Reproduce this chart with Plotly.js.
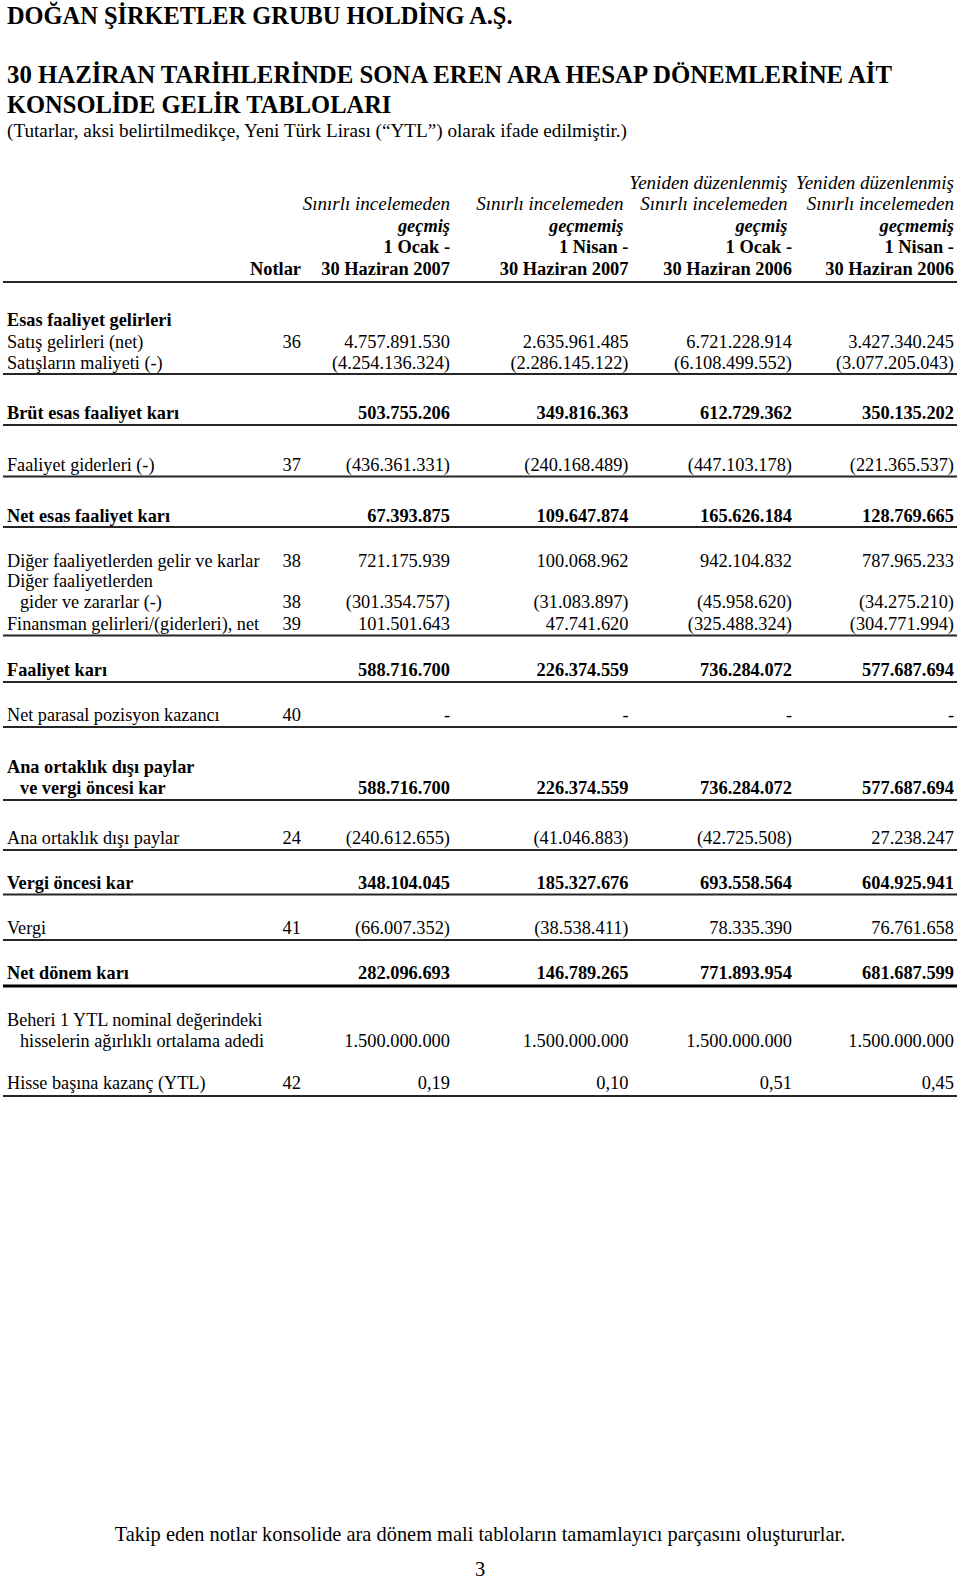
<!DOCTYPE html>
<html>
<head>
<meta charset="utf-8">
<script src="https://cdn.plot.ly/plotly-3.0.1.min.js"></script>
<style>
  html, body { margin: 0; padding: 0; background: #ffffff; }
  #chart { width: 960px; height: 1579px; }
</style>
</head>
<body>
<div id="chart"></div>
<script>
// ---------------- DATA ----------------
const companyTitle = "DOĞAN ŞİRKETLER GRUBU HOLDİNG A.Ş.";
const reportTitle = ["30 HAZİRAN TARİHLERİNDE SONA EREN ARA HESAP DÖNEMLERİNE AİT", "KONSOLİDE GELİR TABLOLARI"];
const unitNote = "(Tutarlar, aksi belirtilmedikçe, Yeni Türk Lirası (“YTL”) olarak ifade edilmiştir.)";
const footerNote = "Takip eden notlar konsolide ara dönem mali tabloların tamamlayıcı parçasını oluştururlar.";
const pageNumber = "3";

const notesHeader = "Notlar";
const headRestated = ["", "", "Yeniden düzenlenmiş", "Yeniden düzenlenmiş"];
const headReview = ["Sınırlı incelemeden", "Sınırlı incelemeden", "Sınırlı incelemeden", "Sınırlı incelemeden"];
const headReviewed = ["geçmiş", "geçmemiş", "geçmiş", "geçmemiş"];
const periodStart = ["1 Ocak -", "1 Nisan -", "1 Ocak -", "1 Nisan -"];
const periodEnd = ["30 Haziran 2007", "30 Haziran 2007", "30 Haziran 2006", "30 Haziran 2006"];

const lineItems = [
  ["Esas faaliyet gelirleri"],
  ["Satış gelirleri (net)"],
  ["Satışların maliyeti (-)"],
  ["Brüt esas faaliyet karı"],
  ["Faaliyet giderleri (-)"],
  ["Net esas faaliyet karı"],
  ["Diğer faaliyetlerden gelir ve karlar"],
  ["Diğer faaliyetlerden", "gider ve zararlar (-)"],
  ["Finansman gelirleri/(giderleri), net"],
  ["Faaliyet karı"],
  ["Net parasal pozisyon kazancı"],
  ["Ana ortaklık dışı paylar", "ve vergi öncesi kar"],
  ["Ana ortaklık dışı paylar"],
  ["Vergi öncesi kar"],
  ["Vergi"],
  ["Net dönem karı"],
  ["Beheri 1 YTL nominal değerindeki", "hisselerin ağırlıklı ortalama adedi"],
  ["Hisse başına kazanç (YTL)"]
];
const notes = ["", "36", "", "", "37", "", "38", "38", "39", "", "40", "", "24", "", "41", "", "", "42"];

const h1_2007 = [null, 4757891530, -4254136324, 503755206, -436361331, 67393875, 721175939, -301354757, 101501643, 588716700, 0, 588716700, -240612655, 348104045, -66007352, 282096693, 1500000000, 0.19];
const q2_2007 = [null, 2635961485, -2286145122, 349816363, -240168489, 109647874, 100068962, -31083897, 47741620, 226374559, 0, 226374559, -41046883, 185327676, -38538411, 146789265, 1500000000, 0.10];
const h1_2006 = [null, 6721228914, -6108499552, 612729362, -447103178, 165626184, 942104832, -45958620, -325488324, 736284072, 0, 736284072, -42725508, 693558564, 78335390, 771893954, 1500000000, 0.51];
const q2_2006 = [null, 3427340245, -3077205043, 350135202, -221365537, 128769665, 787965233, -34275210, -304771994, 577687694, 0, 577687694, 27238247, 604925941, 76761658, 681687599, 1500000000, 0.45];
const periodSeries = [h1_2007, q2_2007, h1_2006, q2_2006];

// ---------------- STYLE / LAYOUT ----------------
const boldRows = [true, false, false, true, false, true, false, false, false, true, false, true, false, true, false, true, false, false];
const decimalRows = [17];
const FONT = "Liberation Serif, Times New Roman, serif";
const LABEL_SIZE = 18.2, BOLD_LABEL_SIZE = 18.3, NUM_SIZE = 18.4;
const TITLE_SIZES = [24.4, 24.8, 24.5];
const UNIT_SIZE = 19.2, ITALIC_HEAD_SIZE = 19, BOLD_HEAD_SIZE = 18.4, FOOTER_SIZE = 20.4;
const labelLeft = 7, indentLeft = 20, notesRight = 301;
const colRight = [450, 628.5, 792, 954];
const italicRight = [450, 623.5, 787.5, 954];
const textDy = 1.8;
const rowY = [320, 341.5, 362.5, 413, 464.5, 516, 561, 602, 623.5, 670, 715, 788, 838, 882.5, 928, 973, 1040.5, 1083];
const lineStep = 21;
const headerY = [182, 203.5, 225.5, 247, 269];
const titleY = [16, 75.5, 105, 130];
const footerY = [1534, 1569];
const footerX = 480;
const ruleY = [374, 425, 476.5, 527, 635.5, 682, 727, 800, 850, 894.5, 940, 1096];
const thickRuleY = [986];
const headerRuleY = [282];
const ruleX = [3, 957];

function fmt(v, dec) {
  if (v === null || v === undefined) return "";
  if (v === 0) return "-";
  const a = Math.abs(v);
  const s = dec ? a.toFixed(2).replace(".", ",") : Math.round(a).toString().replace(/\B(?=(\d{3})+(?!\d))/g, ".");
  return v < 0 ? "(" + s + ")" : s;
}

const traces = [];
function textTrace(xs, ys, texts, align, size, weight, style, name) {
  traces.push({
    type: "scatter", mode: "text", name: name, x: xs, y: ys.map(y => y + textDy), text: texts,
    textposition: align === "left" ? "middle right" : (align === "center" ? "middle center" : "middle left"),
    textfont: { family: FONT, size: size, color: "#000000", weight: weight, style: style },
    hoverinfo: "skip", showlegend: false, cliponaxis: false
  });
}

// titles
textTrace([labelLeft], [titleY[0]], [companyTitle], "left", TITLE_SIZES[0], "bold", "normal", "title-company");
textTrace([labelLeft], [titleY[1]], [reportTitle[0]], "left", TITLE_SIZES[1], "bold", "normal", "title-report-1");
textTrace([labelLeft], [titleY[2]], [reportTitle[1]], "left", TITLE_SIZES[2], "bold", "normal", "title-report-2");
textTrace([labelLeft], [titleY[3]], [unitNote], "left", UNIT_SIZE, "normal", "normal", "unit");

// header
{
  const ix = [], iy = [], it = [];
  const bix = [], biy = [], bit = [];
  const bx = [], by = [], bt = [];
  for (let c = 0; c < 4; c++) {
    if (headRestated[c]) { ix.push(italicRight[c]); iy.push(headerY[0]); it.push(headRestated[c]); }
    ix.push(italicRight[c]); iy.push(headerY[1]); it.push(headReview[c]);
    bix.push(italicRight[c]); biy.push(headerY[2]); bit.push(headReviewed[c]);
    bx.push(colRight[c]); by.push(headerY[3]); bt.push(periodStart[c]);
    bx.push(colRight[c]); by.push(headerY[4]); bt.push(periodEnd[c]);
  }
  bx.push(notesRight); by.push(headerY[4]); bt.push(notesHeader);
  textTrace(ix, iy, it, "right", ITALIC_HEAD_SIZE, "normal", "italic", "head-italic");
  textTrace(bix, biy, bit, "right", BOLD_HEAD_SIZE, "bold", "italic", "head-bolditalic");
  textTrace(bx, by, bt, "right", BOLD_HEAD_SIZE, "bold", "normal", "head-bold");
}

// body labels
{
  const groups = { normal: { x: [], y: [], t: [] }, bold: { x: [], y: [], t: [] } };
  lineItems.forEach((lines, r) => {
    const g = boldRows[r] ? groups.bold : groups.normal;
    lines.forEach((ln, k) => {
      g.x.push(k === 0 ? labelLeft : indentLeft);
      g.y.push(rowY[r] - (lines.length - 1 - k) * lineStep);
      g.t.push(ln);
    });
  });
  textTrace(groups.normal.x, groups.normal.y, groups.normal.t, "left", LABEL_SIZE, "normal", "normal", "labels");
  textTrace(groups.bold.x, groups.bold.y, groups.bold.t, "left", BOLD_LABEL_SIZE, "bold", "normal", "labels-bold");
}

// notes
{
  const x = [], y = [], t = [];
  notes.forEach((n, r) => { if (n) { x.push(notesRight); y.push(rowY[r]); t.push(n); } });
  textTrace(x, y, t, "right", NUM_SIZE, "normal", "normal", "notes");
}

// values
{
  const nx = [], ny = [], nt = [], bx = [], by = [], bt = [];
  periodSeries.forEach((ser, c) => {
    ser.forEach((v, r) => {
      if (v === null) return;
      const s = fmt(v, decimalRows.includes(r));
      if (boldRows[r]) { bx.push(colRight[c]); by.push(rowY[r]); bt.push(s); }
      else { nx.push(colRight[c]); ny.push(rowY[r]); nt.push(s); }
    });
  });
  textTrace(nx, ny, nt, "right", NUM_SIZE, "normal", "normal", "values");
  textTrace(bx, by, bt, "right", NUM_SIZE, "bold", "normal", "values-bold");
}

// footer
textTrace([footerX], [footerY[0]], [footerNote], "center", FOOTER_SIZE, "normal", "normal", "footer");
textTrace([footerX], [footerY[1]], [pageNumber], "center", FOOTER_SIZE, "normal", "normal", "page");

// rules
const shapes = [];
ruleY.forEach(y => shapes.push({ type: "line", xref: "x", yref: "y", x0: ruleX[0], x1: ruleX[1], y0: y, y1: y, line: { color: "#262626", width: 2 } }));
thickRuleY.forEach(y => shapes.push({ type: "line", xref: "x", yref: "y", x0: ruleX[0], x1: ruleX[1], y0: y, y1: y, line: { color: "#000000", width: 3 } }));
headerRuleY.forEach(y => shapes.push({ type: "line", xref: "x", yref: "y", x0: ruleX[0], x1: ruleX[1], y0: y, y1: y, line: { color: "#262626", width: 2 } }));

const layout = {
  width: 960, height: 1579,
  margin: { l: 0, r: 0, t: 0, b: 0, pad: 0 },
  paper_bgcolor: "#ffffff", plot_bgcolor: "#ffffff",
  xaxis: { range: [0, 960], visible: false, fixedrange: true },
  yaxis: { range: [1579, 0], visible: false, fixedrange: true },
  shapes: shapes,
  showlegend: false,
  font: { family: FONT, color: "#000000" }
};

Plotly.newPlot("chart", traces, layout, { staticPlot: true, displayModeBar: false });
</script>
</body>
</html>
